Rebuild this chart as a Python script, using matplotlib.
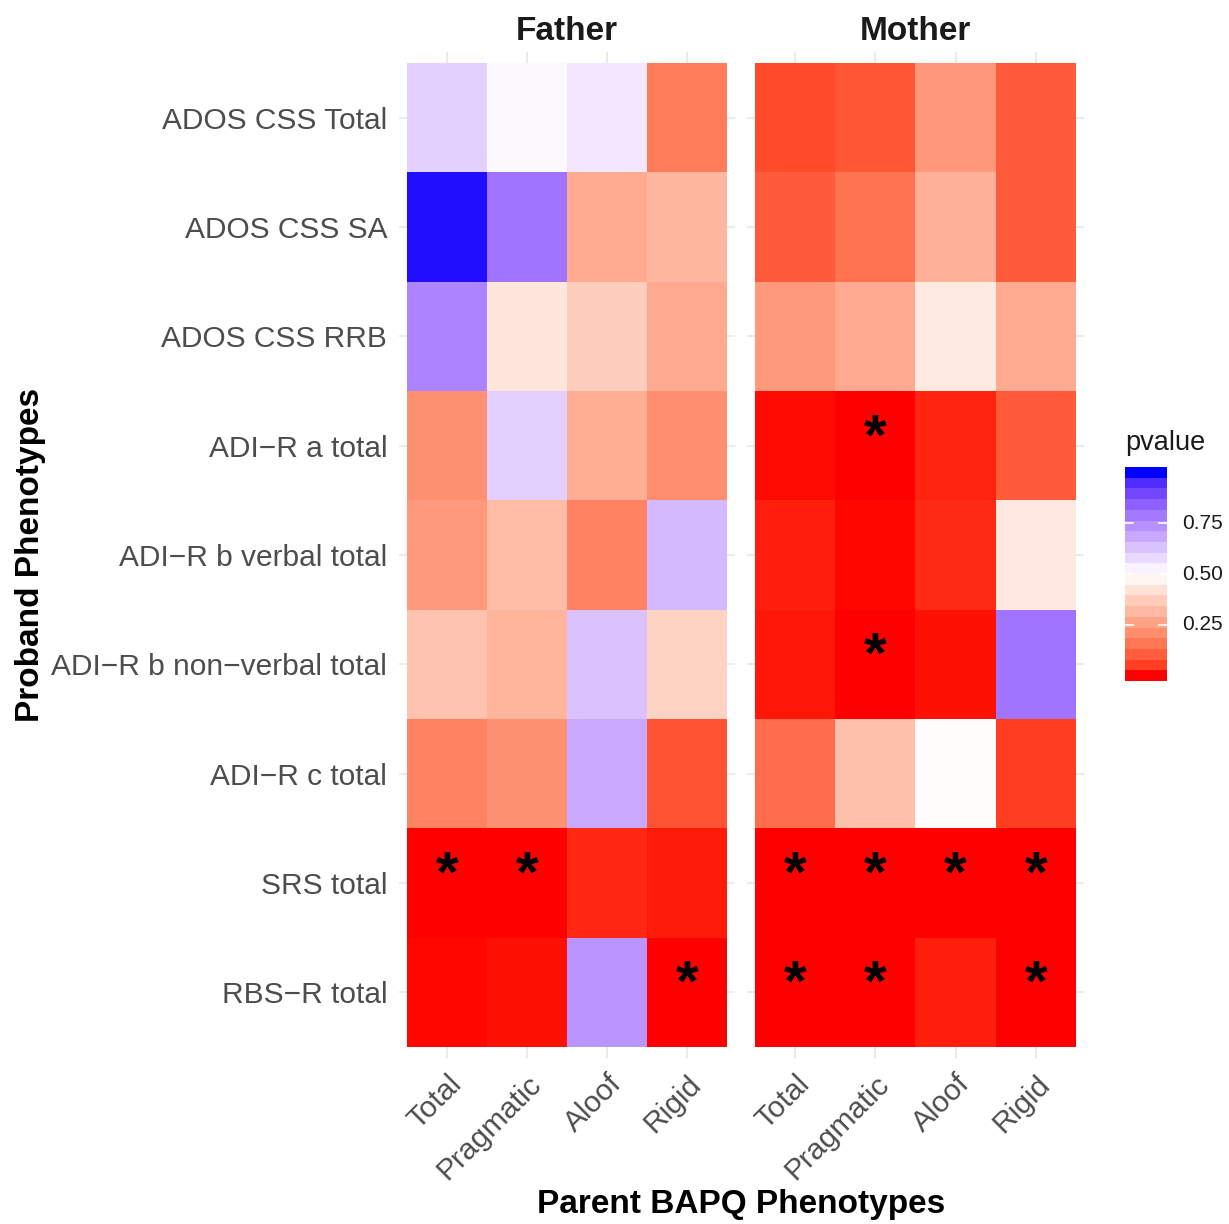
import numpy as np
import matplotlib
matplotlib.use("Agg")
import matplotlib.pyplot as plt
from matplotlib.colors import ListedColormap

plt.rcParams['font.family'] = ['Liberation Sans', 'DejaVu Sans']

# ---------------- data ----------------
rows = ["ADOS CSS Total", "ADOS CSS SA", "ADOS CSS RRB", "ADI\u2212R a total",
        "ADI\u2212R b verbal total", "ADI\u2212R b non\u2212verbal total",
        "ADI\u2212R c total", "SRS total", "RBS\u2212R total"]
cols = ["Total", "Pragmatic", "Aloof", "Rigid"]
panels = ["Father", "Mother"]

father = [
    [0.60, 0.51, 0.55, 0.17],
    [0.99, 0.80, 0.285, 0.31],
    [0.765, 0.43, 0.37, 0.28],
    [0.22, 0.60, 0.29, 0.21],
    [0.24, 0.33, 0.185, 0.65],
    [0.345, 0.305, 0.63, 0.385],
    [0.185, 0.22, 0.685, 0.085],
    [0.001, 0.001, 0.024, 0.012],
    [0.002, 0.006, 0.73, 0.001],
]
mother = [
    [0.07, 0.09, 0.235, 0.10],
    [0.10, 0.15, 0.295, 0.10],
    [0.24, 0.28, 0.445, 0.285],
    [0.004, 0.001, 0.02, 0.10],
    [0.017, 0.002, 0.026, 0.44],
    [0.01, 0.001, 0.007, 0.80],
    [0.135, 0.335, 0.495, 0.05],
    [0.0005, 0.0005, 0.0005, 0.0005],
    [0.0005, 0.0005, 0.015, 0.0005],
]
father_sig = [("SRS total", "Total"), ("SRS total", "Pragmatic"), ("RBS\u2212R total", "Rigid")]
mother_sig = [("ADI\u2212R a total", "Pragmatic"), ("ADI\u2212R b non\u2212verbal total", "Pragmatic"),
              ("SRS total", "Total"), ("SRS total", "Pragmatic"), ("SRS total", "Aloof"),
              ("SRS total", "Rigid"), ("RBS\u2212R total", "Total"), ("RBS\u2212R total", "Pragmatic"),
              ("RBS\u2212R total", "Rigid")]
legend_breaks = [0.25, 0.50, 0.75]

# ------------- colour scale (Lab interpolation like ggplot gradient2) -------------
WHITE_REF = np.array([0.95047, 1.0, 1.08883])
M = np.array([[0.4124, 0.3576, 0.1805], [0.2126, 0.7152, 0.0722], [0.0193, 0.1192, 0.9505]])
Minv = np.linalg.inv(M)

def srgb_to_lab(c):
    c = np.asarray(c, float)
    lin = np.where(c <= 0.04045, c / 12.92, ((c + 0.055) / 1.055) ** 2.4)
    xyz = M @ lin / WHITE_REF
    f = np.where(xyz > 0.008856, np.cbrt(xyz), 7.787 * xyz + 16 / 116)
    return np.array([116 * f[1] - 16, 500 * (f[0] - f[1]), 200 * (f[1] - f[2])])

def lab_to_srgb(lab):
    L, a, b = lab
    fy = (L + 16) / 116
    fx = fy + a / 500
    fz = fy - b / 200
    f = np.array([fx, fy, fz])
    xyz = np.where(f > 0.2069, f ** 3, (f - 16 / 116) / 7.787) * WHITE_REF
    lin = np.clip(Minv @ xyz, 0, 1)
    c = np.where(lin <= 0.0031308, 12.92 * lin, 1.055 * lin ** (1 / 2.4) - 0.055)
    return np.clip(c, 0, 1)

lab_low = srgb_to_lab([1, 0, 0])
lab_mid = srgb_to_lab([1, 1, 1])
lab_high = srgb_to_lab([0, 0, 1])
cols_rgb = []
for v in np.linspace(0, 1, 512):
    if v <= 0.5:
        t = v / 0.5
        lab = lab_low + (lab_mid - lab_low) * t
    else:
        t = (v - 0.5) / 0.5
        lab = lab_mid + (lab_high - lab_mid) * t
    cols_rgb.append(lab_to_srgb(lab))
cmap = ListedColormap(cols_rgb)

# ---------------- figure ----------------
W, H = 1229, 1224
fig = plt.figure(figsize=(W / 100, H / 100), dpi=100)

panel_px = {"Father": (399, 735), "Mother": (747, 1084)}
top_px, bot_px = 52, 1058
grid_col = "#EBEBEB"
tick_col = "#4D4D4D"

for name, data, sig in [("Father", father, father_sig), ("Mother", mother, mother_sig)]:
    x0, x1 = panel_px[name]
    ax = fig.add_axes([x0 / W, 1 - bot_px / H, (x1 - x0) / W, (bot_px - top_px) / H])
    arr = np.array(data)
    xe = np.arange(len(cols) + 1) - 0.5
    ye = np.arange(len(rows) + 1) - 0.5
    ax.pcolormesh(xe, ye, arr, cmap=cmap, vmin=0, vmax=1, zorder=2)
    ax.set_xlim(-0.6, len(cols) - 0.4)
    ax.set_ylim(len(rows) - 0.4, -0.6)
    ax.set_xticks(range(len(cols)))
    ax.set_xticklabels(cols, rotation=45, ha='right', va='top', rotation_mode='anchor',
                       fontsize=21.5, color=tick_col)
    ax.set_yticks(range(len(rows)))
    if name == "Father":
        ax.set_yticklabels(rows, fontsize=21.5, color=tick_col)
    else:
        ax.set_yticklabels([])
    ax.tick_params(length=0, pad=8.5)
    ax.grid(True, color=grid_col, linewidth=1.5, zorder=0)
    ax.set_axisbelow(True)
    for s in ax.spines.values():
        s.set_visible(False)
    for (r, c) in sig:
        ax.text(cols.index(c), rows.index(r) - 0.06, "*", ha='center', va='center',
                fontsize=42, fontweight='bold', color='black', zorder=3)
    ax.set_title(name, fontsize=24, fontweight='bold', color='#1A1A1A', pad=9)

fig.text(741.5 / W, 1 - 1205 / H, "Parent BAPQ Phenotypes", ha='center', va='center',
         fontsize=24, fontweight='bold', color='black')
fig.text(31 / W, 1 - 555 / H, "Proband Phenotypes", ha='center', va='center',
         rotation=90, fontsize=24, fontweight='bold', color='black')

# ---------------- colour bar legend ----------------
nbin = 20
centres = np.linspace(0, 1, nbin)
half = 0.5 / (nbin - 1)
edges = np.linspace(-half, 1 + half, nbin + 1)
cax = fig.add_axes([1125 / W, 1 - 681 / H, 42 / W, 214 / H])
cax.pcolormesh([0, 1], edges, centres.reshape(-1, 1), cmap=cmap, vmin=0, vmax=1)
cax.set_xlim(0, 1)
cax.set_ylim(edges[0], edges[-1])
cax.axis('off')
for b in legend_breaks:
    cax.plot([0, 0.2], [b, b], color='white', lw=1.2)
    cax.plot([0.8, 1], [b, b], color='white', lw=1.2)
    cax.text(1.36, b, f"{b:.2f}", ha='left', va='center', fontsize=15,
             color='#1A1A1A', transform=cax.transData)
fig.text(1125 / W, 1 - 443 / H, "pvalue", ha='left', va='center', fontsize=19.5, color='#1A1A1A')

fig.savefig("out.png", dpi=100, facecolor='white')
